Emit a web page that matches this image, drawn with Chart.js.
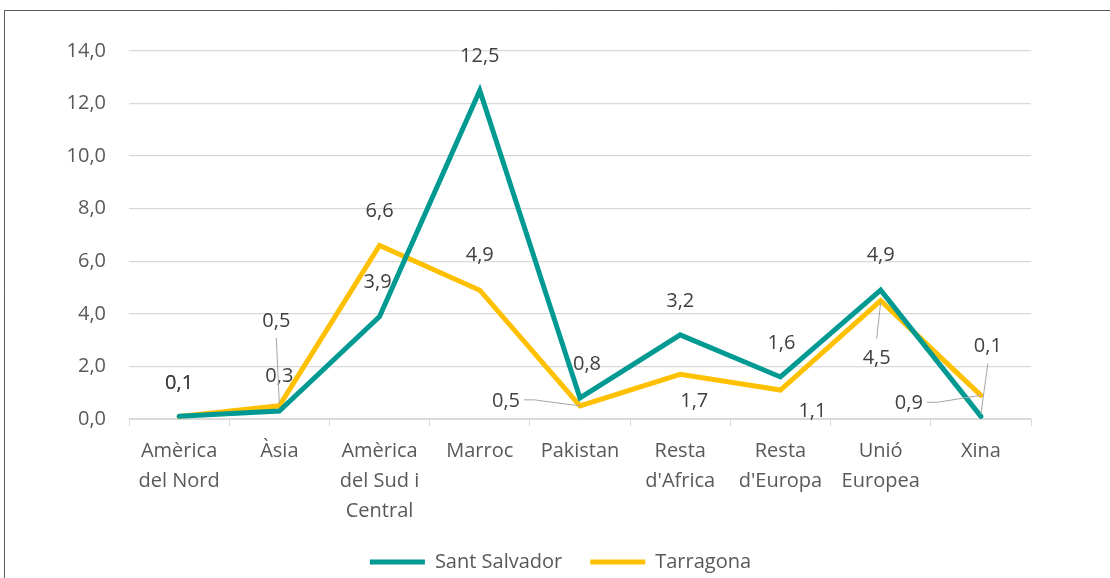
<!DOCTYPE html>
<html>
<head>
<meta charset="utf-8">
<script src="https://cdn.jsdelivr.net/npm/chart.js@4.4.1/dist/chart.umd.min.js"></script>
<style>
  html, body { margin: 0; padding: 0; background: #fff; }
  #wrap { position: relative; width: 1110px; height: 578px; overflow: hidden; }
</style>
</head>
<body>
<div id="wrap"><canvas id="chart" width="1110" height="578"></canvas></div>
<script>
const categories = [
  ["Amèrica", "del Nord"],
  ["Àsia"],
  ["Amèrica", "del Sud i", "Central"],
  ["Marroc"],
  ["Pakistan"],
  ["Resta", "d'Africa"],
  ["Resta", "d'Europa"],
  ["Unió", "Europea"],
  ["Xina"]
];
const santSalvador = [0.1, 0.3, 3.9, 12.5, 0.8, 3.2, 1.6, 4.9, 0.1];
const tarragona = [0.1, 0.5, 6.6, 4.9, 0.5, 1.7, 1.1, 4.5, 0.9];
const yTicks = [0, 2, 4, 6, 8, 10, 12, 14];

// label placement (offset from the point, px) and whether a leader line is drawn
const labelOffsets = [
  [[0, -33], [0, -35], [-2, -34], [0, -34], [7, -34], [0, -34], [1, -34], [0, -35], [7, -70]],
  [[0, -33], [-3, -85], [0, -34], [0, -35], [-74, -5], [14, 27], [32, 21], [-4, 58], [-72, 8]]
];
const leaders = [
  [false, false, false, false, false, false, false, false, true],
  [false, true, false, false, true, false, false, true, true]
];

const TEAL = "#009A93";
const GOLD = "#FFC000";
const FONT = "'Open Sans', 'Noto Sans', sans-serif";

const fmt = (v) => v.toFixed(1).replace(".", ",");

const frame = {
  id: "frame",
  afterLayout(chart) {
    // centre the legend on the whole canvas rather than on the padded area
    const lg = chart.legend;
    lg.left += 45; lg.right += 45;
    lg.top += 4; lg.bottom += 4;
  },
  beforeDraw(chart) {
    const ctx = chart.ctx;
    ctx.save();
    ctx.strokeStyle = "#595959";
    ctx.lineWidth = 1;
    ctx.beginPath();
    ctx.moveTo(4.5, 600);
    ctx.lineTo(4.5, 10.5);
    ctx.lineTo(1120, 10.5);
    ctx.stroke();
    ctx.restore();
  }
};

const valueLabels = {
  id: "valueLabels",
  afterDatasetsDraw(chart) {
    const ctx = chart.ctx;
    ctx.save();
    ctx.font = "20px " + FONT;
    ctx.textAlign = "center";
    ctx.textBaseline = "middle";
    chart.data.datasets.forEach((ds, i) => {
      const meta = chart.getDatasetMeta(i);
      meta.data.forEach((pt, j) => {
        const [dx, dy] = labelOffsets[i][j];
        const tx = pt.x + dx, ty = pt.y + dy;
        const text = fmt(ds.data[j]);
        if (leaders[i][j]) {
          const w = ctx.measureText(text).width;
          ctx.strokeStyle = "#A6A6A6";
          ctx.lineWidth = 1;
          ctx.beginPath();
          if (Math.abs(dx) > Math.abs(dy)) {
            const sx = dx < 0 ? tx + w / 2 + 4 : tx - w / 2 - 4;
            const dir = dx < 0 ? 1 : -1;
            ctx.moveTo(sx, ty - 1);
            ctx.lineTo(sx + dir * 10, ty - 1);
            ctx.lineTo(pt.x, pt.y);
          } else {
            const sy = dy < 0 ? ty + 17 : ty - 20;
            ctx.moveTo(tx, sy);
            ctx.lineTo(pt.x, pt.y + (dy < 0 ? -2 : 2));
          }
          ctx.stroke();
        }
        ctx.fillStyle = "#404040";
        ctx.fillText(text, tx, ty);
      });
    });
    ctx.restore();
  }
};

new Chart(document.getElementById("chart"), {
  type: "line",
  data: {
    labels: categories,
    datasets: [
      {
        label: "Sant Salvador",
        data: santSalvador,
        borderColor: TEAL,
        backgroundColor: TEAL,
        borderWidth: 5,
        borderCapStyle: "round",
        pointRadius: 0,
        tension: 0
      },
      {
        label: "Tarragona",
        data: tarragona,
        borderColor: GOLD,
        backgroundColor: GOLD,
        borderWidth: 5,
        borderCapStyle: "round",
        pointRadius: 0,
        tension: 0
      }
    ]
  },
  options: {
    responsive: false,
    animation: false,
    events: [],
    layout: { padding: { left: 0, right: 79, top: 51, bottom: 0 } },
    scales: {
      x: {
        offset: true,
        grid: {
          offset: true,
          drawOnChartArea: false,
          drawTicks: true,
          tickLength: 7,
          color: "#D9D9D9"
        },
        border: { color: "#D9D9D9" },
        ticks: {
          color: "#595959",
          font: { family: FONT, size: 20, lineHeight: 1.5 },
          padding: 10,
          maxRotation: 0,
          autoSkip: false
        },
        afterFit(scale) { scale.height = 101; }
      },
      y: {
        min: 0,
        max: 14,
        afterBuildTicks(scale) { scale.ticks = yTicks.map((v) => ({ value: v })); },
        grid: { color: "#D9D9D9", drawTicks: false, lineWidth: 1.3 },
        border: { display: false },
        ticks: {
          color: "#595959",
          font: { family: FONT, size: 20 },
          padding: 23,
          callback: (v) => fmt(v)
        },
        afterFit(scale) { scale.width = 129; }
      }
    },
    plugins: {
      legend: {
        position: "bottom",
        labels: {
          usePointStyle: true,
          pointStyle: "line",
          pointStyleWidth: 55,
          color: "#595959",
          font: { family: FONT, size: 20 },
          padding: 28,
          boxHeight: 5
        }
      },
      tooltip: { enabled: false }
    }
  },
  plugins: [frame, valueLabels]
});
</script>
</body>
</html>
